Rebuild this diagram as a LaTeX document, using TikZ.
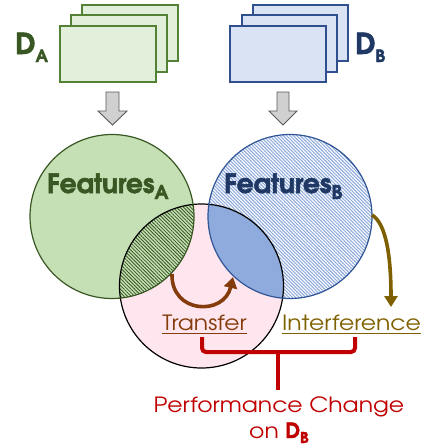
\documentclass[tikz,border=0pt]{standalone}
\usepackage{fontspec}
\setmainfont{texgyreadventor}[Extension=.otf, UprightFont=*-regular, BoldFont=*-bold, FakeStretch=1.12, BoldFeatures={FakeBold=1.5}]
\newfontfamily\headfont{texgyreadventor-bold}[Extension=.otf, FakeBold=2]
\usetikzlibrary{patterns.meta,arrows.meta,calc}
\definecolor{gfill}{HTML}{C5E0B4}
\definecolor{gline}{HTML}{385723}
\definecolor{gstack}{HTML}{E2EFDA}
\definecolor{gstackline}{HTML}{548235}
\definecolor{bfill}{HTML}{8FAADC}
\definecolor{bline}{HTML}{2F5597}
\definecolor{btext}{HTML}{1F3864}
\definecolor{bstack}{HTML}{DAE3F3}
\definecolor{bstackline}{HTML}{2F4F8F}
\definecolor{pfill}{HTML}{FFE6EE}
\definecolor{tbrown}{HTML}{843C0C}
\definecolor{tolive}{HTML}{7F6000}
\definecolor{tred}{HTML}{C00000}
\definecolor{agray}{HTML}{D0D0D0}
\newcommand{\mysub}[3]{\raisebox{-#2}{\fontsize{#3}{#3}\selectfont #1}}
\tikzset{
  stackA/.style={draw=gstackline, fill=gstack, line width=1.1pt},
  stackB/.style={draw=bstackline, fill=bstack, line width=1.1pt},
  grayarrow/.style={draw=black!65, fill=agray, line width=0.9pt, line join=miter},
  lbl/.style={inner sep=0pt, anchor=base},
  curvearrow/.style={line width=3.6pt, -{Triangle[length=11pt,width=13pt]}},
  bracestyle/.style={draw=tred, line width=4pt, rounded corners=4pt},
}
\begin{document}
\begin{tikzpicture}[x=1pt,y=-1pt]
\useasboundingbox (0,0) rectangle (424,448);
% data stacks
\draw[stackA] (82,5) rectangle (178,61);
\draw[stackA] (71,15) rectangle (167,72);
\draw[stackA] (60,26) rectangle (156,82);
\draw[stackB] (253,5) rectangle (348,61);
\draw[stackB] (242,15) rectangle (337,72);
\draw[stackB] (230,26) rectangle (326,82);
\node[lbl, text=gline, anchor=base west] (DA) at (15,54) {\headfont\fontsize{29}{29}\selectfont D\mysub{A}{8pt}{17}};
\node[lbl, text=btext, anchor=base west] (DB) at (355,54) {\headfont\fontsize{29}{29}\selectfont D\mysub{B}{8pt}{17}};
% gray arrows
\draw[grayarrow] (106,92) -- (119,92) -- (119,111) -- (127,111) -- (112.5,125) -- (98,111) -- (106,111) -- cycle;
\draw[grayarrow] (277,92) -- (289,92) -- (289,111) -- (297,111) -- (283,125) -- (269,111) -- (277,111) -- cycle;
% circles
\coordinate (cA) at (112,216.5);
\coordinate (cB) at (290,216.5);
\coordinate (cP) at (201.5,286);
\fill[gfill] (cA) circle (82);
\fill[bfill] (cB) circle (82);
\path[pattern={Lines[angle=-45,distance=2.4pt,line width=1.1pt]}, pattern color=white] (cB) circle (82);
\fill[pfill] (cP) circle (82);
\begin{scope}
  \clip (cA) circle (82);
  \fill[gfill] (cP) circle (82);
  \path[pattern={Lines[angle=-45,distance=2.5pt,line width=0.8pt]}, pattern color=gline] (cP) circle (82);
\end{scope}
\begin{scope}
  \clip (cB) circle (82);
  \fill[bfill] (cP) circle (82);
\end{scope}
\draw[black, line width=1.2pt] (cP) circle (82);
\draw[gline, line width=1.2pt] (cA) circle (82);
\draw[bline, line width=1.2pt] (cB) circle (82);
% feature labels
\node[lbl, text=gline, anchor=base west] (FA) at (47,193) {\headfont\fontsize{26.5}{26.5}\selectfont Features\mysub{A}{6pt}{19}};
\node[lbl, text=btext, anchor=base west] (FB) at (224,193) {\headfont\fontsize{26.5}{26.5}\selectfont Features\mysub{B}{6pt}{19}};
% transfer arrow
\coordinate (ts) at (172,274);
\coordinate (te) at (233,277);
\draw[curvearrow, tbrown] (ts) .. controls (171,314) and (224,316) .. (te);
% interference arrow
\coordinate (is) at (372,215);
\coordinate (ie) at (391,307);
\draw[curvearrow, tolive] (is) .. controls (387,224) and (391,260) .. (ie);
% labels
\node[lbl, text=tbrown] (tr) at (204.5,330) {\fontsize{21}{21}\selectfont Transfer};
\draw[tbrown, line width=1pt] ($(tr.base west)+(0,3)$) -- ($(tr.base east)+(0,3)$);
\node[lbl, text=tolive] (inf) at (351.5,330) {\fontsize{21}{21}\selectfont Interference};
\draw[tolive, line width=1pt] ($(inf.base west)+(0,3)$) -- ($(inf.base east)+(0,3)$);
% brace
\coordinate (bl) at (202,337);
\coordinate (br) at (355,337);
\coordinate (bm) at (278,352);
\coordinate (bs) at (278,390);
\draw[bracestyle] (bl) -- (bl |- bm) -- (br |- bm) -- (br);
\draw[tred, line width=4pt] (bm) -- (bs);
\node[lbl, text=tred] (pc) at (279,412) {\fontsize{21}{21}\selectfont Performance Change};
\node[lbl, text=tred] (on) at (279,438) {\fontsize{21}{21}\selectfont on {\headfont D\mysub{B}{5pt}{15}}};
\end{tikzpicture}
\end{document}
